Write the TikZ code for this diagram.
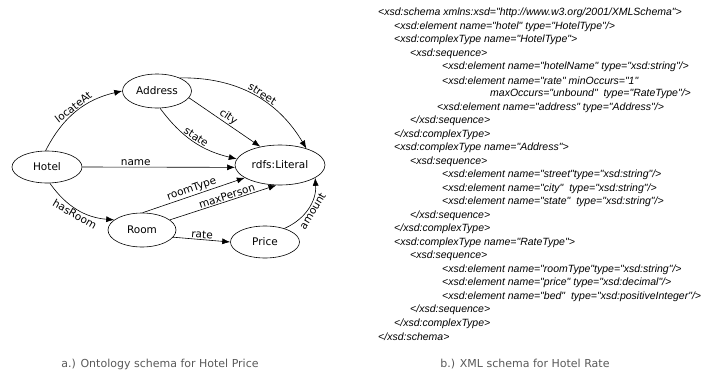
\documentclass[tikz,border=0pt]{standalone}
\usepackage{fontspec}
\setmainfont{DejaVu Sans}
\newfontfamily\xmlfont{Liberation Sans}
\usetikzlibrary{shapes.geometric,arrows.meta}
\begin{document}
\begin{tikzpicture}[x=1pt,y=1pt,
  onode/.style={draw, ellipse, inner sep=0pt, line width=0.6pt, font=\fontsize{10.5}{12}\selectfont},
  rel/.style={draw, -{Latex[length=8pt,width=6pt]}, line width=0.6pt},
  lbl/.style={font=\fontsize{10.5}{12}\selectfont, inner sep=1pt, sloped},
  xml/.style={anchor=west, inner sep=0pt, font=\xmlfont\itshape\fontsize{10.5}{12}\selectfont},
  captxt/.style={font=\fontsize{11}{13}\selectfont, text=black!65}
]
\useasboundingbox (0,0) rectangle (715,-372);

\node[onode, minimum width=70pt, minimum height=32pt] (hotel) at (47,-167) {Hotel};
\node[onode, minimum width=69pt, minimum height=34pt] (addr) at (157,-91) {Address};
\node[onode, minimum width=90pt, minimum height=40pt] (lit) at (280,-165) {rdfs:Literal};
\node[onode, minimum width=68pt, minimum height=34pt] (room) at (142,-230) {Room};
\node[onode, minimum width=69pt, minimum height=32pt] (price) at (265,-242) {Price};

\draw[rel] (hotel.95) to[bend left=25] node[lbl,above,pos=0.5]{locateAt} (addr.west);
\draw[rel] (addr.30) to[bend left=30] node[lbl,above,pos=0.55]{street} (lit.32);
\draw[rel] (addr.348) -- node[lbl,above]{city} (lit.137);
\draw[rel] (addr.280) to[bend right=20] node[lbl,above]{state} (lit.172);
\draw[rel] (hotel.east) -- node[lbl,above,pos=0.35]{name} (lit.183);
\draw[rel] (hotel.280) to[bend right=25] node[lbl,below]{hasRoom} (room.160);
\draw[rel] (room.88) -- node[lbl,above]{roomType} (lit.200);
\draw[rel] (room.20) -- node[lbl,above,pos=0.55]{maxPerson} (lit.260);
\draw[rel] (room.347) -- node[lbl,above]{rate} (price.west);
\draw[rel] (price.35) to[bend right=35] node[lbl,below]{amount} (lit.340);

\node[xml] (x1) at (378,-13) {<xsd:schema xmlns:xsd="http://www.w3.org/2001/XMLSchema">};
\node[xml] (x2) at (394,-26.5) {<xsd:element name="hotel" type="HotelType"/>};
\node[xml] (x3) at (394,-40) {<xsd:complexType name="HotelType">};
\node[xml] (x4) at (410,-53.5) {<xsd:sequence>};
\node[xml] (x5) at (442,-67) {<xsd:element name="hotelName" type="xsd:string"/>};
\node[xml] (x6) at (442,-80.5) {<xsd:element name="rate" minOccurs="1"};
\node[xml] (x7) at (490,-94) {maxOccurs="unbound" \ type="RateType"/>};
\node[xml] (x8) at (437,-107.5) {<xsd:element name="address" type="Address"/>};
\node[xml] (x9) at (410,-121) {</xsd:sequence>};
\node[xml] (x10) at (394,-134.5) {</xsd:complexType>};
\node[xml] (x11) at (394,-148) {<xsd:complexType name="Address">};
\node[xml] (x12) at (410,-161.5) {<xsd:sequence>};
\node[xml] (x13) at (442,-175) {<xsd:element name="street"type="xsd:string"/>};
\node[xml] (x14) at (442,-188.5) {<xsd:element name="city" \ type="xsd:string"/>};
\node[xml] (x15) at (442,-202) {<xsd:element name="state" \ type="xsd:string"/>};
\node[xml] (x16) at (410,-215.5) {</xsd:sequence>};
\node[xml] (x17) at (394,-229) {</xsd:complexType>};
\node[xml] (x18) at (394,-242.5) {<xsd:complexType name="RateType">};
\node[xml] (x19) at (410,-256) {<xsd:sequence>};
\node[xml] (x20) at (442,-269.5) {<xsd:element name="roomType"type="xsd:string"/>};
\node[xml] (x21) at (442,-283) {<xsd:element name="price" type="xsd:decimal"/>};
\node[xml] (x22) at (442,-296.5) {<xsd:element name="bed" \ type="xsd:positiveInteger"/>};
\node[xml] (x23) at (410,-310) {</xsd:sequence>};
\node[xml] (x24) at (394,-323.5) {</xsd:complexType>};
\node[xml] (x25) at (378,-337) {</xsd:schema>};

\node[captxt] (capa) at (160,-364) {a.) Ontology schema for Hotel Price};
\node[captxt] (capb) at (525,-364) {b.) XML schema for Hotel Rate};
\end{tikzpicture}
\end{document}
